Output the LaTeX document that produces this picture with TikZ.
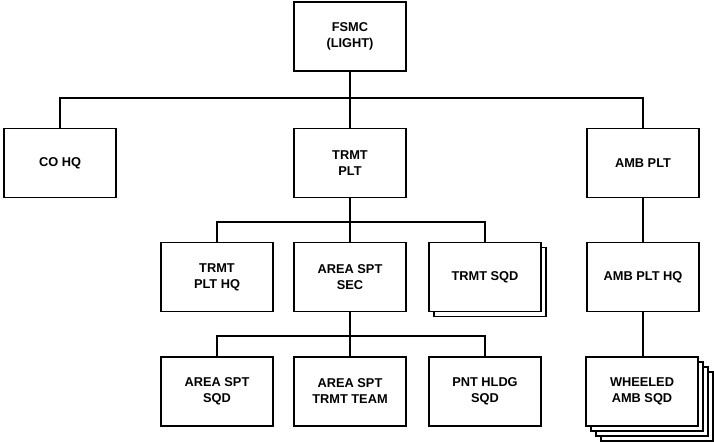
\documentclass[tikz,border=0pt]{standalone}
\usepackage{fontspec}
\setmainfont{Liberation Sans}
\begin{document}
\begin{tikzpicture}[x=1pt,y=-1pt,
  unit/.style={draw=black, line width=1.6pt, fill=white, minimum width=112pt, minimum height=69pt,
    align=center, inner sep=0pt, font=\fontsize{12.8}{16}\selectfont\bfseries},
  link/.style={line width=1.6pt}]
\useasboundingbox (0,0) rectangle (714,444);
% level 0
\node[unit] (fsmc) at (350,36.5) {FSMC\\(LIGHT)};
% level 1
\node[unit] (cohq) at (60,163) {CO HQ};
\node[unit] (trmtplt) at (350,163) {TRMT\\PLT};
\node[unit] (ambplt) at (643,163) {AMB PLT};
% level 2
\node[unit] (trmthq) at (217,277) {TRMT\\PLT HQ};
\node[unit] (areasec) at (350,277) {AREA SPT\\SEC};
\node[unit] (trmtsqd3) at (490,282) {};
\node[unit] (trmtsqd) at (485,277) {TRMT SQD};
\node[unit] (ambhq) at (643,277) {AMB PLT HQ};
% level 3
\node[unit] (areasqd) at (217,391.5) {AREA SPT\\SQD};
\node[unit] (areateam) at (350,391.5) {AREA SPT\\TRMT TEAM};
\node[unit] (pnt) at (485,391.5) {PNT HLDG\\SQD};
\node[unit] (wh4) at (657,406.5) {};
\node[unit] (wh3) at (652,401.5) {};
\node[unit] (wh2) at (647,396.5) {};
\node[unit] (wheeled) at (642,391.5) {WHEELED\\AMB SQD};
% connectors
\coordinate (j0) at (350,98);
\draw[link] (fsmc.south) -- (j0);
\draw[link] (cohq.north) |- (j0) -| (ambplt.north);
\draw[link] (j0) -- (trmtplt.north);
\coordinate (j1) at (350,222);
\draw[link] (trmtplt.south) -- (j1);
\draw[link] (trmthq.north) |- (j1) -| (trmtsqd.north);
\draw[link] (j1) -- (areasec.north);
\coordinate (j2) at (350,336);
\draw[link] (areasec.south) -- (j2);
\draw[link] (areasqd.north) |- (j2) -| (pnt.north);
\draw[link] (j2) -- (areateam.north);
\draw[link] (ambplt.south) -- (ambhq.north);
\draw[link] (ambhq.south) -- (ambhq.south |- wheeled.north);
\end{tikzpicture}
\end{document}
